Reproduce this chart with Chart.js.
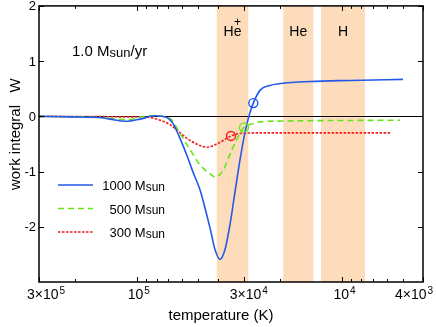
<!DOCTYPE html>
<html>
<head>
<meta charset="utf-8">
<title>work integral</title>
<script src="https://cdn.jsdelivr.net/npm/chart.js@4.4.1/dist/chart.umd.min.js"></script>
<style>
  html, body { margin: 0; padding: 0; background: #fff; }
  #box { width: 436px; height: 327px; }
</style>
</head>
<body>
<div id="box"><canvas id="workChart"></canvas></div>
<script>
// temperature axis runs from hot (left) to cool (right)
const tickTemps = [300000, 100000, 30000, 10000, 4000];
const tickBase = ['3×10', '10', '3×10', '10', '4×10'];
const tickExp = ['5', '5', '4', '4', '3'];
const minorTemps = [200000, 90000, 80000, 70000, 60000, 50000, 40000, 20000, 9000, 8000, 7000, 6000, 5000];
const workTicks = [-2, -1, 0, 1, 2];

// ionisation zones
const bandHot = [40680, 19260, 12600];
const bandCool = [28520, 13740, 7680];
const bandIon = ['He', 'He', 'H'];
const bandCharge = ['+', '', ''];

const massLabels = ['1000', '500', '300'];

const temp1000 = [300000, 211700, 151100, 135000, 112800, 96300, 81400, 71340, 66270, 61460, 56190, 53100, 49090, 46410, 43870, 41470, 39200, 37060, 35040, 33120, 31310, 29600, 27990, 26960, 25010, 22350, 19310, 14260, 9080, 5010];
const work1000 = [0, -0.01, -0.02, -0.05, -0.09, -0.05, 0.01, -0.02, -0.14, -0.40, -0.76, -1.01, -1.33, -1.66, -2.02, -2.41, -2.59, -2.41, -1.96, -1.37, -0.79, -0.29, 0.07, 0.24, 0.47, 0.56, 0.60, 0.63, 0.65, 0.67];

const temp500 = [300000, 151100, 112800, 86130, 68800, 61460, 54930, 49090, 43870, 41240, 37770, 34380, 31310, 29930, 26960, 25010, 19310, 5180];
const work500 = [0, -0.02, -0.06, 0.01, -0.04, -0.31, -0.60, -0.88, -1.04, -1.10, -0.97, -0.61, -0.31, -0.20, -0.13, -0.10, -0.085, -0.07];

const temp300 = [300000, 151100, 112800, 93150, 86130, 76970, 68800, 63580, 56790, 49090, 45530, 40110, 36370, 34650, 31310, 25010, 5730];
const work300 = [0, -0.005, -0.01, -0.01, -0.02, -0.07, -0.15, -0.25, -0.40, -0.53, -0.56, -0.49, -0.40, -0.355, -0.31, -0.30, -0.30];

// circled points on each curve
const markTemp = [26960, 29930, 34650];
const markWork = [0.24, -0.20, -0.355];

const FONT = '"Liberation Sans", Arial, Helvetica, sans-serif';
const colors = ['#2458ea', '#66e619', '#f21c1c'];
const dashes = [[], [6, 4], [2.5, 1.5]];
const labelShift = [7, 2, 5, 3, -9];

const temps = [temp1000, temp500, temp300];
const works = [work1000, work500, work300];

function toPoints(ts, ws) {
    return ts.map((t, i) => ({ x: t, y: ws[i] }));
}

const frame = {
    id: 'frame',
    beforeDatasetsDraw(chart) {
        const { ctx, chartArea: a, scales: { x, y } } = chart;
        ctx.save();
        ctx.fillStyle = '#fddcbc';
        bandHot.forEach((t, i) => {
            const x0 = x.getPixelForValue(t);
            const x1 = x.getPixelForValue(bandCool[i]);
            ctx.fillRect(x0, a.top, x1 - x0, a.bottom - a.top);
        });

        const y0 = Math.round(y.getPixelForValue(0)) + 0.5;
        ctx.strokeStyle = '#000';
        ctx.lineWidth = 1;
        ctx.beginPath();
        ctx.moveTo(a.left, y0);
        ctx.lineTo(a.right, y0);
        ctx.stroke();

        ctx.fillStyle = '#000';
        ctx.textBaseline = 'alphabetic';
        bandHot.forEach((t, i) => {
            const cx = (x.getPixelForValue(t) + x.getPixelForValue(bandCool[i])) / 2;
            ctx.font = `14px ${FONT}`;
            ctx.textAlign = 'left';
            const w = ctx.measureText(bandIon[i]).width;
            ctx.fillText(bandIon[i], cx - w / 2, a.top + 30);
            if (bandCharge[i]) {
                const wH = ctx.measureText('H').width;
                const we = ctx.measureText('e').width;
                ctx.font = `12px ${FONT}`;
                ctx.textAlign = 'center';
                ctx.fillText(bandCharge[i], cx - w / 2 + wH + we / 2, a.top + 20.5);
            }
        });
        ctx.restore();
    },
    afterDraw(chart) {
        const { ctx, chartArea: a, scales: { x, y } } = chart;
        ctx.save();
        ctx.strokeStyle = '#000';
        ctx.lineWidth = 1.5;
        ctx.strokeRect(a.left, a.top, a.right - a.left, a.bottom - a.top);

        // inward ticks on all four sides
        ctx.lineWidth = 1;
        ctx.beginPath();
        const xTick = (t, len) => {
            const px = Math.round(x.getPixelForValue(t)) + 0.5;
            ctx.moveTo(px, a.bottom); ctx.lineTo(px, a.bottom - len);
            ctx.moveTo(px, a.top); ctx.lineTo(px, a.top + len);
        };
        tickTemps.forEach(t => xTick(t, 5));
        minorTemps.forEach(t => xTick(t, 3));
        workTicks.forEach(v => {
            const py = Math.round(y.getPixelForValue(v)) + 0.5;
            ctx.moveTo(a.left, py); ctx.lineTo(a.left + 5, py);
            ctx.moveTo(a.right, py); ctx.lineTo(a.right - 5, py);
        });
        ctx.stroke();

        ctx.fillStyle = '#000';
        ctx.textBaseline = 'alphabetic';

        // y tick labels
        ctx.font = `13px ${FONT}`;
        ctx.textAlign = 'right';
        workTicks.forEach(v => {
            ctx.fillText(String(v), a.left - 3, y.getPixelForValue(v) + 4.5);
        });

        // x tick labels with exponents
        ctx.textAlign = 'left';
        tickTemps.forEach((t, i) => {
            const px = x.getPixelForValue(t) + labelShift[i];
            ctx.font = `14px ${FONT}`;
            const wb = ctx.measureText(tickBase[i]).width;
            ctx.font = `10px ${FONT}`;
            const we = ctx.measureText(tickExp[i]).width;
            const left = px - (wb + we + 1) / 2;
            ctx.font = `14px ${FONT}`;
            ctx.fillText(tickBase[i], left, a.bottom + 17);
            ctx.font = `10px ${FONT}`;
            ctx.fillText(tickExp[i], left + wb + 1, a.bottom + 11.5);
        });

        // axis titles
        ctx.font = `15px ${FONT}`;
        ctx.textAlign = 'center';
        ctx.fillText('temperature (K)', 221, 320);
        ctx.save();
        ctx.translate(20, 190);
        ctx.rotate(-Math.PI / 2);
        ctx.textAlign = 'left';
        ctx.fillText('work integral   W', 0, 0);
        ctx.restore();

        // mass-loss rate note
        ctx.textAlign = 'left';
        let cx = 72;
        ctx.font = `15px ${FONT}`;
        ctx.fillText('1.0 M', cx, 56);
        cx += ctx.measureText('1.0 M').width;
        ctx.font = `13px ${FONT}`;
        ctx.fillText('sun', cx, 56.5);
        cx += ctx.measureText('sun').width;
        ctx.font = `15px ${FONT}`;
        ctx.fillText('/yr', cx, 56);

        // legend
        massLabels.forEach((m, i) => {
            const ly = 185 + i * 23.5;
            ctx.strokeStyle = colors[i];
            ctx.lineWidth = 1.6;
            ctx.setLineDash(dashes[i]);
            ctx.beginPath();
            ctx.moveTo(58, ly);
            ctx.lineTo(93, ly);
            ctx.stroke();
            ctx.setLineDash([]);

            ctx.font = `12px ${FONT}`;
            const ws = ctx.measureText('sun').width;
            ctx.font = `13px ${FONT}`;
            const wm = ctx.measureText(m + ' M').width;
            const right = 165;
            ctx.fillText(m + ' M', right - ws - wm, ly + 5);
            ctx.font = `12px ${FONT}`;
            ctx.fillText('sun', right - ws, ly + 5.5);
        });
        ctx.restore();
    }
};

const datasets = [];
markTemp.forEach((t, i) => {
    datasets.push({
        data: [{ x: t, y: markWork[i] }],
        showLine: false,
        pointRadius: 4.5,
        pointBorderColor: colors[i],
        pointBackgroundColor: 'rgba(0,0,0,0)',
        pointBorderWidth: 1.4
    });
});
massLabels.forEach((m, i) => {
    datasets.push({
        label: m + ' Msun',
        data: toPoints(temps[i], works[i]),
        showLine: true,
        borderColor: colors[i],
        borderWidth: 1.6,
        borderDash: dashes[i],
        pointRadius: 0,
        cubicInterpolationMode: 'monotone',
        fill: false
    });
});

Chart.defaults.font.family = FONT;
Chart.defaults.color = '#000';

new Chart(document.getElementById('workChart'), {
    type: 'scatter',
    data: { datasets },
    options: {
        responsive: true,
        maintainAspectRatio: false,
        animation: false,
        layout: { padding: { top: 5, right: 13, left: 0, bottom: 0 } },
        plugins: { legend: { display: false }, tooltip: { enabled: false } },
        scales: {
            x: {
                type: 'logarithmic',
                reverse: true,
                min: 4000,
                max: 300000,
                grid: { display: false, drawTicks: false },
                border: { display: false },
                ticks: { display: false },
                afterFit: s => { s.height = 45; }
            },
            y: {
                min: -3,
                max: 2,
                grid: { display: false, drawTicks: false },
                border: { display: false },
                ticks: { display: false },
                afterFit: s => { s.width = 39; }
            }
        }
    },
    plugins: [frame]
});
</script>
</body>
</html>
